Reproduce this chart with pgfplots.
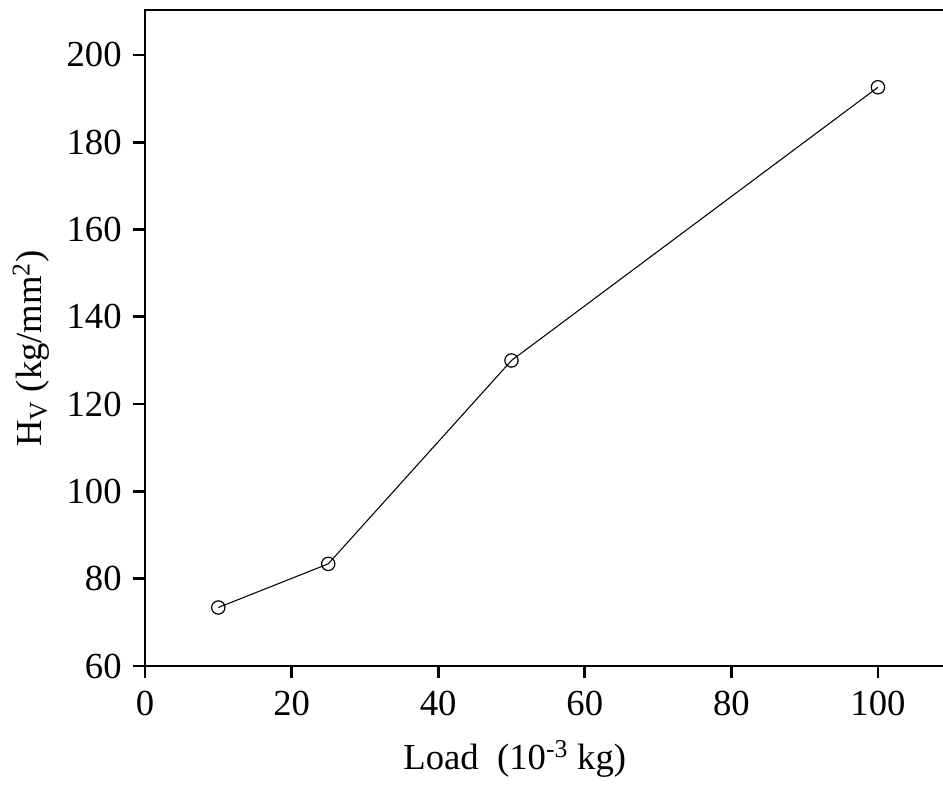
\documentclass[border=0pt]{standalone}
\usepackage{fontspec}
\setmainfont{Liberation Serif}
\usepackage{pgfplots}
\pgfplotsset{compat=1.18}
\begin{document}
\begin{tikzpicture}[x=1pt,y=1pt]
\begin{axis}[
  name=ax,
  at={(0,0)}, anchor=south west,
  scale only axis,
  width=604.7pt, height=492pt,
  xmin=0, xmax=110, ymin=60, ymax=210.3,
  xtick={0,20,40,60,80,100},
  ytick={60,80,100,120,140,160,180,200},
  minor xtick={10,30,50,70,90},
  minor ytick={},
  tick pos=left,
  tick align=outside,
  major tick length=9pt,
  minor tick length=0pt,
  every tick/.style={black, line width=2pt},
  axis line style={line width=2pt},
  font=\fontsize{27.5}{32}\selectfont,
  /pgf/number format/assume math mode=true,
  xticklabel style={yshift=-6pt},
  yticklabel style={xshift=-5pt},
  xlabel={Load\ \ (10\textsuperscript{-3} kg)},
  ylabel={H\textsubscript{V} (kg/mm\textsuperscript{2})},
  xlabel style={yshift=-12pt, xshift=-25pt},
  ylabel style={yshift=6pt, xshift=-8pt},
  clip=false,
]
\addplot[black, line width=0.8pt, mark=o, mark size=5pt, mark options={fill=white, line width=0.9pt}]
coordinates {(10,73.4) (25,83.4) (50,130.0) (100,192.6)};
\end{axis}
\pgfresetboundingbox
\path[use as bounding box] (-108.75pt,-89.25pt) rectangle (598.5pt,499.5pt);
\end{tikzpicture}
\end{document}
